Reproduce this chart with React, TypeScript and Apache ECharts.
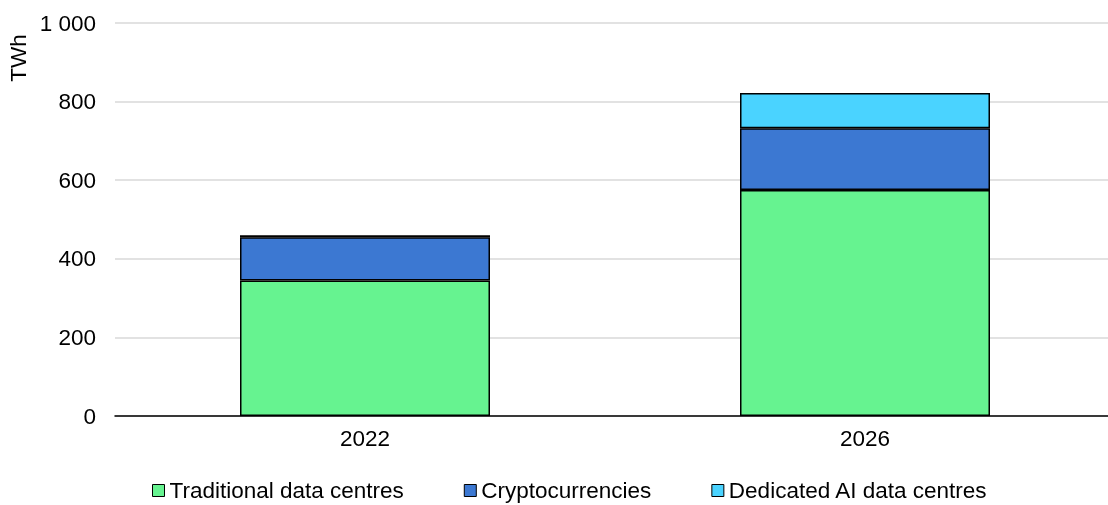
import React, { useEffect, useRef } from "react";
import * as echarts from "echarts";

const categories = ["2022", "2026"];
const traditional = [345, 575];
const crypto = [110, 157];
const dedicatedAI = [5, 90];
const seriesNames = ["Traditional data centres", "Cryptocurrencies", "Dedicated AI data centres"];
const colors = ["#66F390", "#3C78D2", "#4AD3FF"];
const yTicks = { min: 0, max: 1000, interval: 200 };
const unitLabel = "TWh";

export default function App() {
  const ref = useRef<HTMLDivElement>(null);
  useEffect(() => {
    if (!ref.current) return;
    const chart = echarts.init(ref.current, null, { renderer: "svg" });
    const font = "Liberation Sans, Arial, sans-serif";
    const fs = 22.5;
    const data = [traditional, crypto, dedicatedAI];
    chart.setOption({
      animation: false,
      textStyle: { fontFamily: font },
      grid: { left: 115, right: 5, top: 23, bottom: 89 },
      graphic: [
        {
          type: "text",
          x: 18,
          y: 58,
          rotation: Math.PI / 2,
          style: { text: unitLabel, fontSize: fs, fill: "#000", fontFamily: font, align: "center", verticalAlign: "middle" },
        },
      ],
      legend: {
        top: 479,
        left: 152,
        padding: 0,
        itemWidth: 12,
        itemHeight: 12,
        itemGap: 60,
        icon: "rect",
        textStyle: { fontSize: fs, color: "#000", fontFamily: font },
        data: seriesNames.map((n) => ({ name: n, itemStyle: { borderColor: "#000", borderWidth: 1 } })),
      },
      xAxis: {
        type: "category",
        data: categories,
        axisLine: { lineStyle: { color: "#000", width: 1.5 } },
        axisTick: { show: false },
        axisLabel: { fontSize: fs, color: "#000", margin: 11, fontFamily: font },
      },
      yAxis: {
        type: "value",
        min: yTicks.min,
        max: yTicks.max,
        interval: yTicks.interval,
        axisLine: { show: false },
        axisTick: { show: false },
        splitLine: { lineStyle: { color: "#D9D9D9", width: 1.5 } },
        axisLabel: {
          fontSize: fs,
          color: "#000",
          margin: 19,
          fontFamily: font,
          formatter: (v: number) => (v >= 1000 ? String(v).replace(/\B(?=(\d{3})+(?!\d))/g, " ") : String(v)),
        },
      },
      series: seriesNames.map((name, i) => ({
        name,
        type: "bar",
        stack: "total",
        barWidth: "50%",
        data: data[i],
        itemStyle: { color: colors[i], borderColor: "#000", borderWidth: 1.5 },
      })),
    });
    return () => chart.dispose();
  }, []);
  return (
    <div style={{ position: "fixed", left: 0, top: 0, width: 1108, height: 505, overflow: "hidden" }}>
      <div ref={ref} style={{ width: 1120, height: 505 }} />
    </div>
  );
}
